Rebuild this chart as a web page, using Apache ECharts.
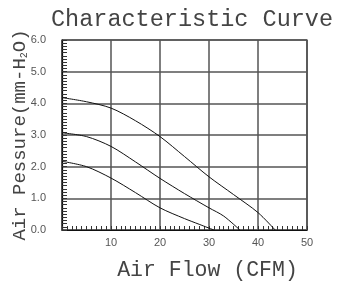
<!DOCTYPE html>
<html>
<head>
<meta charset="UTF-8">
<title>Characteristic Curve</title>
<style>
  * { margin: 0; padding: 0; }
  body { background: #fff; }
  #charts { width: 346px; height: 286px; }
</style>
</head>
<body>
<div id="charts"></div>
<script src="https://cdn.jsdelivr.net/npm/echarts@6/dist/echarts.min.js"></script>
<script>
// air flow (CFM) / air pressure (mm-H2O)
var curveHigh = [[0, 4.18], [5, 4.05], [10, 3.85], [15, 3.45], [20, 2.95], [25, 2.32], [30, 1.68], [35, 1.12], [40, 0.55], [43.5, 0]];
var curveMid = [[0, 3.07], [5, 2.95], [10, 2.64], [15, 2.15], [20, 1.63], [25, 1.15], [30, 0.7], [33, 0.44], [36.3, 0]];
var curveLow = [[0, 2.17], [5, 2.0], [10, 1.64], [15, 1.18], [20, 0.7], [25, 0.36], [28, 0.18], [31, 0]];
var xTicks = [10, 20, 30, 40, 50];

var serif = '"Liberation Mono", "DejaVu Sans Mono", monospace';
var mycharts = echarts.init(document.getElementById('charts'));

function curve(data) {
  return {
    type: 'line',
    data: data,
    smooth: 0.3,
    symbol: 'none',
    lineStyle: { color: '#111', width: 1 }
  };
}

var option = {
  animation: false,
  backgroundColor: '#fff',
  title: {
    text: 'Characteristic Curve',
    left: 51,
    top: 8,
    padding: 0,
    textStyle: { fontFamily: serif, fontSize: 23.5, fontWeight: 'normal', color: '#444' }
  },
  grid: {
    left: 62, right: 39, top: 40, bottom: 56,
    outerBoundsMode: 'none',
    containLabel: false,
    show: true, borderColor: '#111', borderWidth: 1.2
  },
  xAxis: {
    type: 'value', min: 0, max: 50, interval: 10,
    name: 'Air Flow (CFM)',
    nameLocation: 'middle',
    nameGap: 29,
    nameMoveOverlap: false,
    nameTextStyle: { fontFamily: serif, fontSize: 21.5, color: '#444', padding: [0, 0, 0, 46] },
    axisLine: { lineStyle: { color: '#111', width: 1.2 } },
    axisTick: { show: true, inside: true, length: 4, lineStyle: { color: '#333' } },
    minorTick: { show: true, splitNumber: 10, length: 4, lineStyle: { color: '#333' } },
    splitLine: { lineStyle: { color: '#555', width: 1.5 } },
    axisLabel: {
      fontFamily: 'Liberation Sans', fontSize: 11, color: '#555', margin: 7,
      formatter: function (v) { return xTicks.indexOf(v) >= 0 ? String(v) : ''; }
    }
  },
  yAxis: {
    type: 'value', min: 0, max: 6, interval: 1,
    name: 'Air Pessure(mm-H{sub|2}O)',
    nameLocation: 'middle',
    nameGap: 33,
    nameMoveOverlap: false,
    nameTextStyle: {
      fontFamily: serif, fontSize: 19, color: '#444',
      rich: { sub: { fontFamily: serif, fontSize: 10, color: '#444', padding: [9, 0, 0, 0] } }
    },
    axisLine: { lineStyle: { color: '#111', width: 1.2 } },
    axisTick: { show: true, inside: true, length: 5, lineStyle: { color: '#333' } },
    minorTick: { show: true, splitNumber: 10, length: 5, lineStyle: { color: '#333' } },
    splitLine: { lineStyle: { color: '#555', width: 1.5 } },
    axisLabel: {
      fontFamily: 'Liberation Sans', fontSize: 11, color: '#555', margin: 16,
      formatter: function (v) { return v.toFixed(1); }
    }
  },
  series: [curve(curveHigh), curve(curveMid), curve(curveLow)]
};

mycharts.setOption(option);
</script>
</body>
</html>
